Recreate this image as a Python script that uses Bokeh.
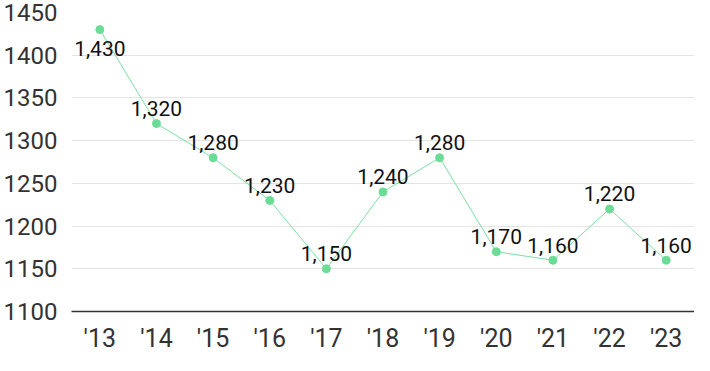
from bokeh.plotting import figure
from bokeh.models import ColumnDataSource, Range1d, FixedTicker
from bokeh.core.properties import value
from bokeh.embed import file_html
from bokeh.resources import INLINE

years = ["'13", "'14", "'15", "'16", "'17", "'18", "'19", "'20", "'21", "'22", "'23"]
values = [1430, 1320, 1280, 1230, 1150, 1240, 1280, 1170, 1160, 1220, 1160]
y_ticks = [1100, 1150, 1200, 1250, 1300, 1350, 1400, 1450]

labels = [f"{v:,}" for v in values]
top = max(values)
offsets = [19 if v == top else -15 for v in values]

src = ColumnDataSource(dict(x=years, y=values, label=labels, off=offsets))

p = figure(x_range=years, y_range=Range1d(1100, 1450), width=694, height=355,
           output_backend="svg", toolbar_location=None,
           min_border_top=12, min_border_right=0, min_border_left=0, min_border_bottom=0)
p.outline_line_color = None
p.background_fill_color = "white"
p.border_fill_color = "white"

p.xgrid.grid_line_color = None
p.ygrid.grid_line_color = "#e4e4e4"
p.ygrid.grid_line_width = 1
p.yaxis.ticker = FixedTicker(ticks=y_ticks)

p.yaxis.axis_line_color = None
p.yaxis.major_tick_line_color = None
p.yaxis.minor_tick_line_color = None
p.yaxis.major_label_text_font = "Roboto"
p.yaxis.major_label_text_font_size = "24px"
p.yaxis.major_label_text_color = "#333333"
p.yaxis.major_label_standoff = 8

p.xaxis.axis_line_color = "#333333"
p.xaxis.axis_line_width = 1.5
p.xaxis.major_tick_line_color = None
p.xaxis.minor_tick_line_color = None
p.xaxis.major_label_text_font = "Roboto"
p.xaxis.major_label_text_font_size = "25px"
p.xaxis.major_label_text_color = "#333333"
p.xaxis.major_label_standoff = 6

p.line("x", "y", source=src, line_color="#7ddfa3", line_width=1)
p.scatter("x", "y", source=src, size=8, fill_color="#6bdc95", line_color="#6bdc95")
p.text("x", "y", text="label", source=src, y_offset="off",
       text_align="center", text_baseline="middle",
       text_font=value("Roboto"), text_font_size="21px", text_color="#111111")

open("out.html", "w").write(file_html(p, INLINE))
